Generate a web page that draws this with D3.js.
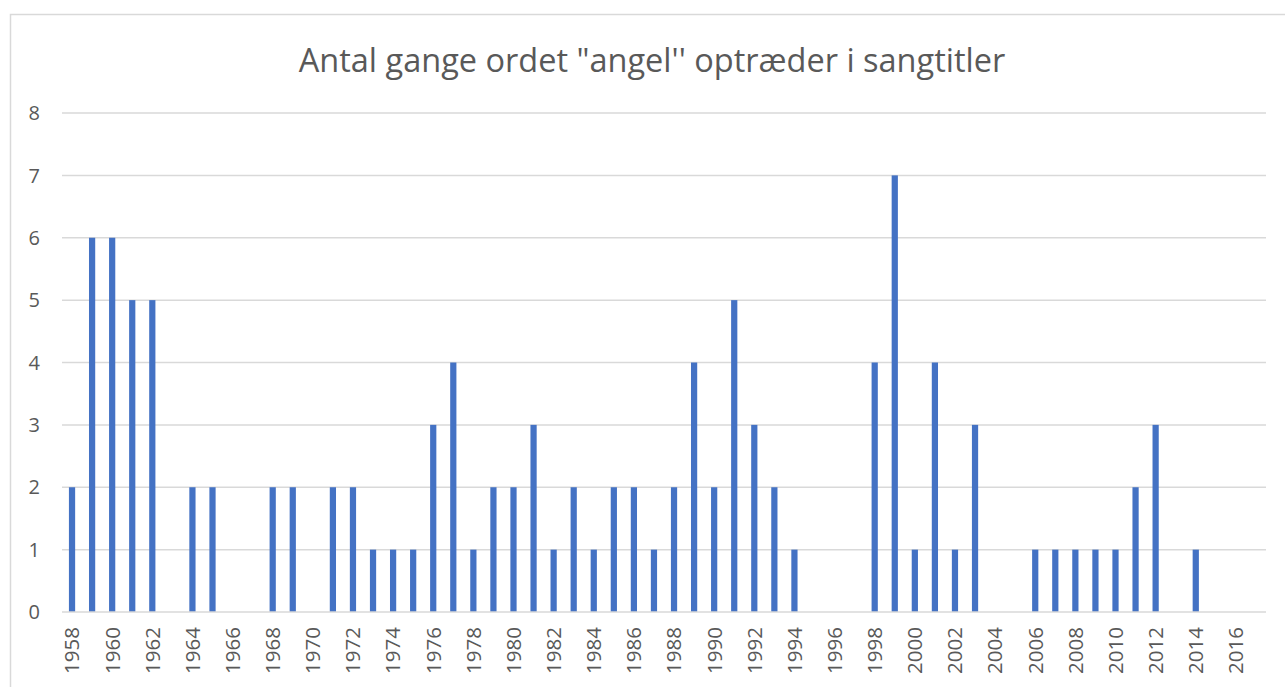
<!DOCTYPE html>
<html>
<head>
<meta charset="utf-8">
<script src="https://cdn.jsdelivr.net/npm/d3@7/dist/d3.min.js"></script>
<style>
html, body { margin: 0; padding: 0; background: #fff; overflow: hidden; }
svg { display: block; }
</style>
</head>
<body>
<svg id="chart" width="1285" height="687"></svg>
<script>
const title = 'Antal gange ordet "angel\'\' optræder i sangtitler';
const years = d3.range(1958, 2018);
const counts = [
  2, 6, 6, 5, 5, 0, 2, 2, 0, 0,
  2, 2, 0, 2, 2, 1, 1, 1, 3, 4,
  1, 2, 2, 3, 1, 2, 1, 2, 2, 1,
  2, 4, 2, 5, 3, 2, 1, 0, 0, 0,
  4, 7, 1, 4, 1, 3, 0, 0, 1, 1,
  1, 1, 1, 2, 3, 0, 1, 0, 0, 0
];
const yTicks = [0, 1, 2, 3, 4, 5, 6, 7, 8];
const xTickYears = years.filter(y => (y - 1958) % 2 === 0);

const svg = d3.select("#chart");
const margin = { left: 62, right: 1266, top: 113, bottom: 612 };

// chart frame
svg.append("rect")
  .attr("x", 10.5).attr("y", 14.5)
  .attr("width", 1290).attr("height", 700)
  .attr("fill", "none").attr("stroke", "#d9d9d9").attr("stroke-width", 1.5);

const x = d3.scaleBand().domain(years).range([margin.left, margin.right]).paddingInner(0.69).paddingOuter(0.345);
const y = d3.scaleLinear().domain([0, 8]).range([margin.bottom, margin.top]);

// gridlines
svg.append("g").selectAll("line").data(yTicks.filter(d => d > 0)).join("line")
  .attr("x1", margin.left).attr("x2", margin.right)
  .attr("y1", d => y(d)).attr("y2", d => y(d))
  .attr("stroke", "#d9d9d9").attr("stroke-width", 1.5);

// bars
svg.append("g").selectAll("rect").data(years.map((yr, i) => ({ yr, v: counts[i] }))).join("rect")
  .attr("x", d => x(d.yr))
  .attr("width", x.bandwidth())
  .attr("y", d => y(d.v))
  .attr("height", d => y(0) - y(d.v))
  .attr("fill", "#4472c4");

// x axis line
svg.append("line")
  .attr("x1", margin.left).attr("x2", margin.right)
  .attr("y1", y(0)).attr("y2", y(0))
  .attr("stroke", "#d9d9d9").attr("stroke-width", 1.5);

// y labels
svg.append("g").selectAll("text").data(yTicks).join("text")
  .attr("x", 40).attr("y", d => y(d))
  .attr("dy", "0.36em")
  .attr("text-anchor", "end")
  .attr("font-family", "'Open Sans', sans-serif")
  .attr("font-size", 20)
  .attr("fill", "#595959")
  .text(d => d);

// x labels
svg.append("g").selectAll("text").data(xTickYears).join("text")
  .attr("transform", d => `translate(${x(d) + x.bandwidth() / 2},627) rotate(-90)`)
  .attr("dy", "0.36em")
  .attr("text-anchor", "end")
  .attr("font-family", "'Open Sans', sans-serif")
  .attr("font-size", 20.5)
  .attr("fill", "#595959")
  .text(d => d);

// title
svg.append("text")
  .attr("x", 652).attr("y", 72)
  .attr("text-anchor", "middle")
  .attr("font-family", "'Open Sans', sans-serif")
  .attr("font-size", 32.5)
  .attr("fill", "#595959")
  .text(title);
</script>
</body>
</html>
